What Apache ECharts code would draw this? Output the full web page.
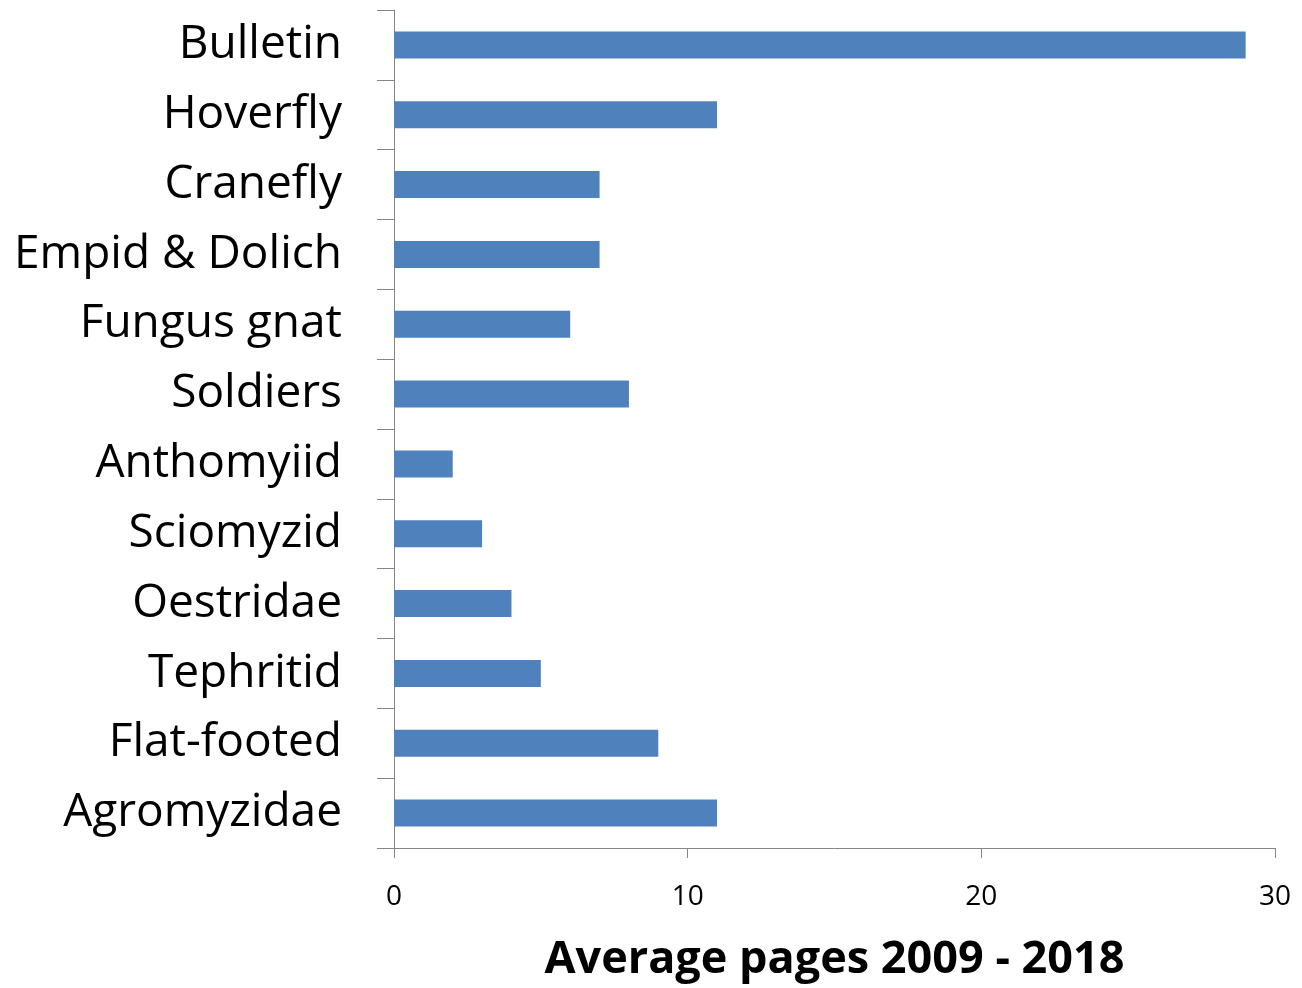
<!DOCTYPE html>
<html>
<head>
<meta charset="utf-8">
<script src="https://cdn.jsdelivr.net/npm/echarts@6/dist/echarts.min.js"></script>
<style>
  html, body { margin: 0; padding: 0; background: #fff; }
  #main { width: 1302px; height: 988px; }
</style>
</head>
<body>
<div id="main"></div>
<script>
// categories top to bottom
const groups = ['Bulletin', 'Hoverfly', 'Cranefly', 'Empid & Dolich', 'Fungus gnat', 'Soldiers',
  'Anthomyiid', 'Sciomyzid', 'Oestridae', 'Tephritid', 'Flat-footed', 'Agromyzidae'];
const avgPages = [29, 11, 7, 7, 6, 8, 2, 3, 4, 5, 9, 11];
const xTicks = [0, 10, 20, 30];

const chart = echarts.init(document.getElementById('main'));
const axisGrey = '#868686';

chart.setOption({
  animation: false,
  grid: { left: 394, right: 27, top: 10, bottom: 140, containLabel: false },
  xAxis: {
    type: 'value',
    min: xTicks[0],
    max: xTicks[xTicks.length - 1],
    interval: xTicks[1] - xTicks[0],
    name: 'Average pages 2009 - 2018',
    nameLocation: 'middle',
    nameGap: 90,
    nameTextStyle: { fontFamily: 'Open Sans', fontWeight: 'bold', fontSize: 45, color: '#000' },
    axisLine: { show: true, lineStyle: { color: axisGrey, width: 1 } },
    axisTick: { show: true, length: 10, lineStyle: { color: axisGrey } },
    axisLabel: { margin: 35, fontFamily: 'Open Sans', fontSize: 28, color: '#000' },
    splitLine: { show: false }
  },
  yAxis: {
    type: 'category',
    data: groups,
    inverse: true,
    axisLine: { show: true, lineStyle: { color: axisGrey, width: 1 } },
    axisTick: { show: true, length: 17, lineStyle: { color: axisGrey } },
    axisLabel: { margin: 52, fontFamily: 'Open Sans', fontSize: 46, color: '#000', padding: [3, 0, 0, 0] }
  },
  series: [{
    type: 'bar',
    data: avgPages,
    barWidth: 27,
    itemStyle: { color: '#4F81BD' }
  }]
});
</script>
</body>
</html>
